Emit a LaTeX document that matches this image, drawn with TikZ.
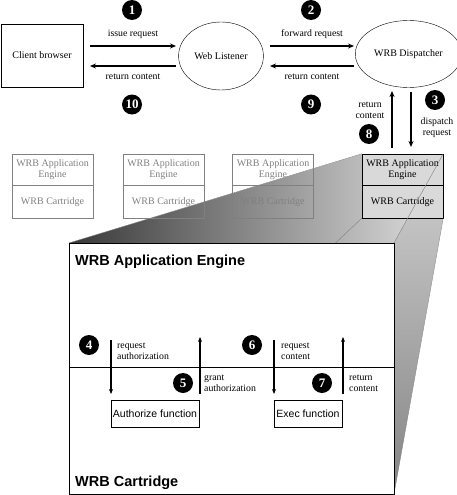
\documentclass[tikz,border=0pt]{standalone}
\usepackage{fontspec}
\setmainfont{Liberation Serif}
\newfontfamily\helv{Liberation Sans}
\usetikzlibrary{positioning,calc,arrows.meta,shapes.geometric}
\newcommand*{\smalltxt}{\fontsize{9.8}{10.8}\selectfont}
\newcommand*{\boxtxt}{\fontsize{10}{10.5}\selectfont}

\tikzset{
  numdot/.style={circle,fill=black,text=white,minimum size=20pt,inner sep=0pt,
                 font=\fontsize{13}{13}\selectfont\bfseries},
  flow/.style={line width=1.8pt,-{Stealth[length=6pt,width=5pt]}},
  subflow/.style={line width=1.3pt,-{Stealth[length=5pt,width=4pt]}},
  lbl/.style={font=\smalltxt,align=center,inner sep=0pt},
  sublbl/.style={font=\smalltxt,align=left,inner sep=0pt,anchor=west},
  engbox/.style={draw,minimum width=81pt,minimum height=31.5pt,inner sep=0pt,
                 align=center,font=\boxtxt},
  cartbox/.style={draw,minimum width=81pt,minimum height=32.5pt,inner sep=0pt,
                  font=\boxtxt},
  funcbox/.style={draw,fill=white,minimum height=27pt,inner sep=1pt,
                  font=\helv\fontsize{10.5}{12}\selectfont},
  title/.style={anchor=west,inner sep=0pt,font=\helv\bfseries\fontsize{14.5}{14.5}\selectfont},
  edge3d/.style={gray,thin}
}

\begin{document}
\begin{tikzpicture}[x=1pt,y=-1pt]
\useasboundingbox (0,0) rectangle (456,495);
% Top row: browser, listener and dispatcher
\node [draw,minimum width=82pt,minimum height=63pt,font=\boxtxt] (client) at (42,55.5) {Client browser};
\node [draw,ellipse,minimum width=82pt,minimum height=68pt,font=\boxtxt] (listener) at (221,56) {Web Listener};
\node [draw,ellipse,minimum width=92pt,minimum height=67pt,font=\boxtxt] (dispatcher) at (408.5,54) {WRB Dispatcher};
% End points of the horizontal arrows
\coordinate (c1) at (90,46);   \coordinate (l1) at (176,46);
\coordinate (c2) at (90,66);   \coordinate (l2) at (176,66);
\coordinate (l3) at (270,46);  \coordinate (d1) at (354,46);
\coordinate (l4) at (270,66);  \coordinate (d2) at (354,66);
\draw [flow] (c1) -- node[lbl,above=7pt] (issue) {issue request} (l1);
\draw [flow] (l2) -- node[lbl,below=7pt] (ret1) {return content} (c2);
\draw [flow] (l3) -- node[lbl,above=7pt] (fwd) {forward request} (d1);
\draw [flow] (d2) -- node[lbl,below=7pt] (ret2) {return content} (l4);
\node [numdot] (n1) at (132,10) {1};
\node [numdot] (n10) at (132,104.5) {10};
\node [numdot] (n2) at (311,10) {2};
\node [numdot] (n9) at (311,104.5) {9};
% Dispatcher to the engine pool
\coordinate (up1) at (392,148);  \coordinate (up2) at (392,91);
\coordinate (dn1) at (411,92);   \coordinate (dn2) at (411,147);
\draw [flow] (up1) -- (up2);
\draw [flow] (dn1) -- (dn2);
\node [lbl] (retc) at (370,110) {return\\content};
\node [lbl] (disp) at (437,128) {dispatch\\request};
\node [numdot] (n3) at (435,100) {3};
\node [numdot] (n8) at (369,134) {8};
% Zoomed volume behind the big box
\shade [left color=black!78,right color=black!12]
  (362,154) -- (443,154) -- (394,243) -- (69,243) -- cycle;
\shade [top color=black!18,middle color=black!55,bottom color=black!48]
  (443,154) -- (443,218) -- (394,494) -- (394,243) -- cycle;
% Pool of engines
\fill [black!15] (362,154) rectangle (443,218);
\foreach \x/\n in {52.5/a,163.5/b,273/c} {
  \node [engbox,gray] (eng\n) at (\x,169.75) {WRB Application\\Engine};
  \node [cartbox,gray] (cart\n) at (\x,201.75) {WRB Cartridge};
}
\node [engbox] (engd) at (402.5,169.75) {WRB Application\\Engine};
\node [cartbox] (cartd) at (402.5,201.75) {WRB Cartridge};
% Edges of the zoom
\draw [edge3d] (engd.north west) -- (69,243);
\draw [edge3d] (engd.north east) -- (394,243);
\draw [edge3d] (cartd.south east) -- (394,494);
\draw [edge3d] (cartd.south west) -- (69,494);
% Big box
\draw [fill=white] (69,243) rectangle (394,494);
\draw (69,367) -- (394,367);
\node [title] (engtitle) at (75,262) {WRB Application Engine};
\node [title] (carttitle) at (75,483) {WRB Cartridge};
\node [funcbox,minimum width=88pt] (auth) at (155,413.5) {Authorize function};
\node [funcbox,minimum width=68pt] (exec) at (308,413.5) {Exec function};
% Calls inside the engine
\coordinate (r1) at (111,340);  \coordinate (r2) at (111,394);
\coordinate (g1) at (200,394);  \coordinate (g2) at (200,337);
\coordinate (q1) at (274,340);  \coordinate (q2) at (274,394);
\coordinate (t1) at (343,394);  \coordinate (t2) at (343,337);
\draw [subflow] (r1) -- (r2);
\draw [subflow] (g1) -- (g2);
\draw [subflow] (q1) -- (q2);
\draw [subflow] (t1) -- (t2);
\node [sublbl] (reqauth) at (117,351.5) {request\\authorization};
\node [sublbl] (grant) at (204,383.5) {grant\\authorization};
\node [sublbl] (reqcont) at (281,351.5) {request\\content};
\node [sublbl] (retcont) at (349,383.5) {return\\content};
\node [numdot] (n4) at (89,345) {4};
\node [numdot] (n5) at (183,383) {5};
\node [numdot] (n6) at (252,345) {6};
\node [numdot] (n7) at (322,383) {7};
\end{tikzpicture}
\end{document}
